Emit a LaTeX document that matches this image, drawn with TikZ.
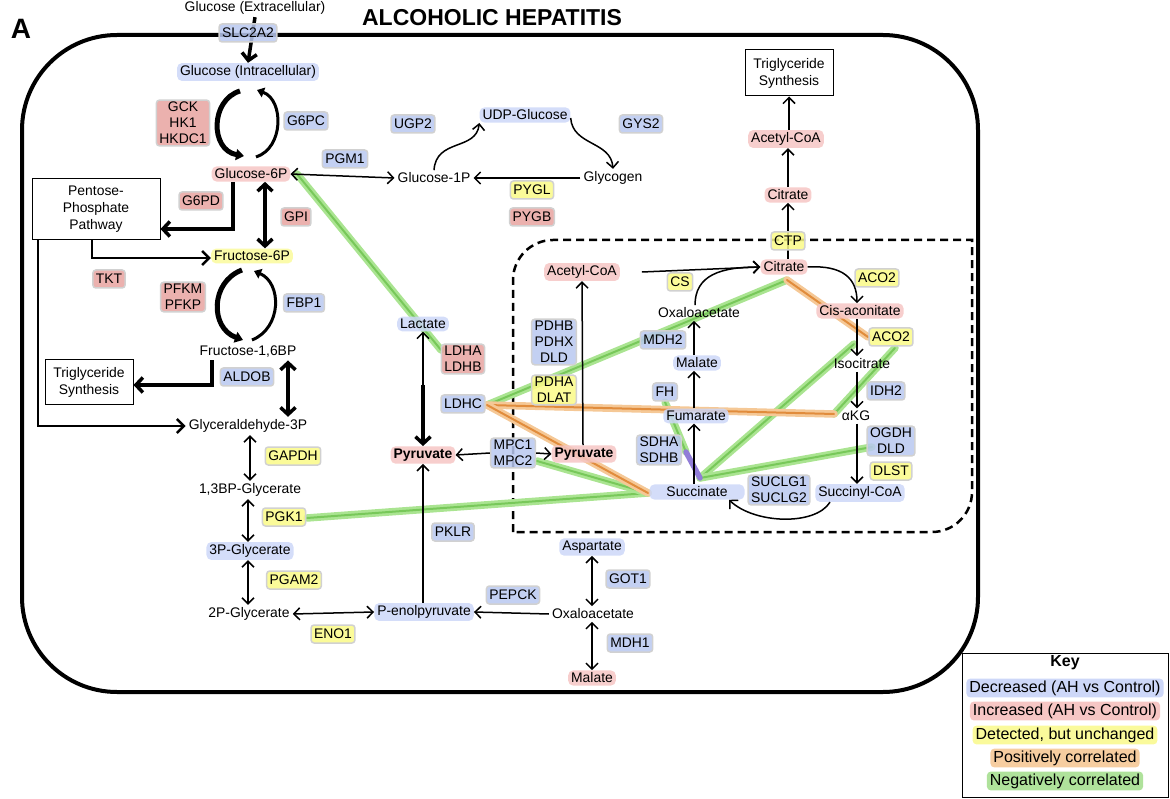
\documentclass[tikz,border=0pt]{standalone}
\usepackage{fontspec}
\setmainfont{Liberation Sans}
\usetikzlibrary{arrows.meta,calc,backgrounds}
\definecolor{eblue}{RGB}{185,200,240}
\definecolor{ered}{RGB}{232,163,160}
\definecolor{eyel}{RGB}{250,250,135}
\definecolor{gblue}{RGB}{205,215,248}
\definecolor{gred}{RGB}{246,198,196}
\definecolor{gyel}{RGB}{250,250,155}
\definecolor{gora}{RGB}{246,205,160}
\definecolor{ggre}{RGB}{175,226,155}
\definecolor{nghalo}{RGB}{170,228,145}
\definecolor{ngcore}{RGB}{120,200,90}
\definecolor{pohalo}{RGB}{245,200,150}
\definecolor{pocore}{RGB}{225,140,60}
\definecolor{pupl}{RGB}{145,125,215}
\newcommand\ft{\fontsize{13.9}{16}\selectfont}
\newcommand\kft{\fontsize{16}{18}\selectfont}
\begin{document}
\begin{tikzpicture}[x=1pt,y=-1pt,
  every node/.style={font=\ft},
  met/.style={inner xsep=3pt,inner ysep=2.5pt,rounded corners=5pt,fill opacity=0.85,text opacity=1},
  mb/.style={met,fill=gblue}, mr/.style={met,fill=gred}, my/.style={met,fill=gyel},
  mn/.style={inner xsep=3pt,inner ysep=2.5pt},
  enz/.style={rounded corners=3pt,draw=black!18,line width=1.5pt,inner xsep=3pt,inner ysep=2pt,minimum height=18pt,align=center,fill opacity=0.85,text opacity=1},
  eb/.style={enz,fill=eblue}, er/.style={enz,fill=ered}, ey/.style={enz,fill=eyel},
  pbox/.style={draw,line width=1pt,align=center,inner sep=0pt,font=\fontsize{13.9}{17}\selectfont},
  ar/.style={line width=1.5pt,-{Straight Barb[length=6pt,width=12pt]}},
  dar/.style={line width=1.5pt,{Straight Barb[length=6pt,width=12pt]}-{Straight Barb[length=6pt,width=12pt]}},
  mar/.style={line width=2.6pt,-{Straight Barb[length=7pt,width=14pt]}},
  tar/.style={line width=3.5pt,-{Straight Barb[length=7pt,width=15pt]}},
  tdar/.style={line width=3.5pt,{Straight Barb[length=7pt,width=15pt]}-{Straight Barb[length=7pt,width=15pt]}},
  cyct/.style={line width=5pt,-{Triangle[length=8pt,width=11pt]}},
  cycn/.style={line width=3pt,-{Triangle[length=7pt,width=10pt]}},
  negcor/.style={draw=ngcore,line width=2pt,line cap=round,preaction={draw=nghalo,line width=7.5pt,line cap=round}},
  poscor/.style={draw=pocore,line width=2pt,line cap=round,preaction={draw=pohalo,line width=7.5pt,line cap=round}},
  purpcor/.style={draw=pupl,line width=5.5pt,line cap=round},
  kent/.style={font=\kft,inner xsep=3pt,inner ysep=2pt,rounded corners=4pt}
]
\useasboundingbox (0,0) rectangle (1170,799);

% titles
\node[font=\fontsize{28}{30}\selectfont\bfseries] (lblA) at (21,29) {A};
\node[font=\fontsize{23}{25}\selectfont\bfseries] (title) at (492,18) {ALCOHOLIC HEPATITIS};

% metabolites
\node[mn] (gext) at (255,8) {Glucose (Extracellular)};
\node[eb] (slc) at (248,33) {SLC2A2};
\node[mb] (gint) at (248,72) {Glucose (Intracellular)};
\node[mr] (g6p) at (251,174) {Glucose-6P};
\node[my] (f6p) at (252,256) {Fructose-6P};
\node[mn] (f16) at (248,352) {Fructose-1,6BP};
\node[mn] (gap) at (248,426) {Glyceraldehyde-3P};
\node[mn] (bpg) at (250,490) {1,3BP-Glycerate};
\node[mb] (pg3) at (250,551) {3P-Glycerate};
\node[mn] (pg2) at (249,614) {2P-Glycerate};
\node[mb] (pep) at (424,612) {P-enolpyruvate};
\node[mn] (oaac) at (593,614) {Oxaloacetate};
\node[mb] (asp) at (592,547) {Aspartate};
\node[mr] (malc) at (592,678) {Malate};
\node[mb] (lac) at (423,324) {Lactate};
\node[mr,font=\ft\bfseries] (pyrc) at (423,455) {Pyruvate};
\node[mr,font=\ft\bfseries] (pyrm) at (584,454) {Pyruvate};
\node[mr] (acm) at (582,272) {Acetyl-CoA};
\node[mr] (citm) at (784,267) {Citrate};
\node[mr] (citc) at (788,195) {Citrate};
\node[mr] (acc) at (786,139) {Acetyl-CoA};
\node[mb] (udpg) at (525,115) {UDP-Glucose};
\node[mn] (g1p) at (434,178) {Glucose-1P};
\node[mn] (glyc) at (613,178) {Glycogen};
\node[mr] (cis) at (860,311) {Cis-aconitate};
\node[mn] (iso) at (862,364) {Isocitrate};
\node[mn] (akg) at (856,416) {αKG};
\node[mb] (sucoa) at (860,493) {Succinyl-CoA};
\node[mb,minimum width=95pt] (suc) at (697,492) {Succinate};
\node[mb] (fum) at (696,416) {Fumarate};
\node[mb] (malm) at (697,363) {Malate};
\node[mn] (oaam) at (699,313) {Oxaloacetate};

% boxes
\node[pbox,minimum width=128pt,minimum height=61pt] (ppp) at (96,209) {Pentose-\\Phosphate\\Pathway};
\node[pbox,minimum width=88pt,minimum height=45pt] (tgl) at (89,382) {Triglyceride\\Synthesis};
\node[pbox,minimum width=88pt,minimum height=46pt] (tgt) at (789,73) {Triglyceride\\Synthesis};

% enzymes
\node[er] (gck) at (183,123) {GCK\\HK1\\HKDC1};
\node[eb] (g6pc) at (306,121) {G6PC};
\node[eb] (pgm1) at (345,159) {PGM1};
\node[er] (g6pd) at (201,201) {G6PD};
\node[er] (gpi) at (296,217) {GPI};
\node[er] (tkt) at (109,279) {TKT};
\node[er] (pfk) at (183,297) {PFKM\\PFKP};
\node[eb] (fbp1) at (304,303) {FBP1};
\node[eb] (aldob) at (247,377) {ALDOB};
\node[ey] (gapdh) at (293,456) {GAPDH};
\node[ey] (pgk1) at (284,517) {PGK1};
\node[ey] (pgam2) at (294,580) {PGAM2};
\node[ey] (eno1) at (333,634) {ENO1};
\node[eb] (pklr) at (453,532) {PKLR};
\node[eb] (pepck) at (513,595) {PEPCK};
\node[eb] (got1) at (628,579) {GOT1};
\node[eb] (mdh1) at (630,643) {MDH1};
\node[eb] (ugp2) at (413,124) {UGP2};
\node[eb] (gys2) at (641,124) {GYS2};
\node[ey] (pygl) at (532,190) {PYGL};
\node[er] (pygb) at (532,217) {PYGB};
\node[er] (ldhab) at (463,359) {LDHA\\LDHB};
\node[eb] (ldhc) at (463,404) {LDHC};
\node[eb] (mpc) at (513,453) {MPC1\\MPC2};
\node[eb] (pdhb) at (554,342) {PDHB\\PDHX\\DLD};
\node[ey] (pdha) at (554,390) {PDHA\\DLAT};
\node[ey] (cs) at (680,282) {CS};
\node[ey] (ctp) at (788,241) {CTP};
\node[ey] (aco2a) at (877,278) {ACO2};
\node[ey] (aco2b) at (891,337) {ACO2};
\node[eb] (idh2) at (886,391) {IDH2};
\node[eb] (ogdh) at (891,441) {OGDH\\DLD};
\node[ey] (dlst) at (891,471) {DLST};
\node[eb] (sucl) at (779,490) {SUCLG1\\SUCLG2};
\node[eb] (sdh) at (659,450) {SDHA\\SDHB};
\node[eb] (fh) at (665,392) {FH};
\node[eb] (mdh2) at (663,340) {MDH2};

% key
\node[draw,line width=1pt,minimum width=206pt,minimum height=144pt] (key) at (1065,725) {};
\node[font=\kft\bfseries] (keyt) at (1065,663) {Key};
\node[kent,fill=gblue] (k1) at (1065,688) {Decreased (AH vs Control)};
\node[kent,fill=gred] (k2) at (1065,711) {Increased (AH vs Control)};
\node[kent,fill=gyel] (k3) at (1065,735) {Detected, but unchanged};
\node[kent,fill=gora] (k4) at (1065,758) {Positively correlated};
\node[kent,fill=ggre] (k5) at (1065,781) {Negatively correlated};

% cycles
\coordinate (c1a) at (240,91); \coordinate (c1b) at (244,156);
\coordinate (c1c) at (256,157); \coordinate (c1d) at (257,90);
\draw[cyct] (c1a) .. controls (210,100) and (210,150) .. (c1b);
\draw[cycn] (c1c) .. controls (284,148) and (284,100) .. (c1d);
\coordinate (c2a) at (242,270); \coordinate (c2b) at (243,340);
\coordinate (c2c) at (252,340); \coordinate (c2d) at (254,271);
\draw[cyct] (c2a) .. controls (210,282) and (210,328) .. (c2b);
\draw[cycn] (c2c) .. controls (282,328) and (282,283) .. (c2d);

% glycolysis arrows
\draw[tar] ([xshift=-18pt]g6p.south) |- ([yshift=-20pt]ppp.east);
\draw[tdar] ([xshift=14pt]g6p.south) -- ([xshift=13pt]f6p.north);
\draw[mar] ([xshift=-4pt]ppp.south) |- ([yshift=-2pt]f6p.west);
\draw[mar] ([xshift=-58pt]ppp.south) |- (gap.west);
\draw[tar] ([xshift=-36pt]f16.south) |- ([yshift=-3pt]tgl.east);
\draw[tdar] ([xshift=40pt]f16.south) -- ([xshift=40pt]f16.south |- gap.north);
\draw[dar] ([xshift=2pt]gap.south) -- (bpg.north);
\draw[dar] ([xshift=-2pt]bpg.south) -- ([xshift=-2pt]pg3.north);
\draw[dar] ([xshift=-2pt]pg3.south) -- ([xshift=-1pt]pg2.north);
\draw[dar] (pg2.east) -- (pep.west);
\draw[ar] (pyrc.south |- pep.north) -- (pyrc.south);
\draw[ar] (oaac.west) -- (pep.east);
\draw[dar] (asp.south) -- (oaac.north -| asp.south);
\draw[dar] (oaac.south -| malc.north) -- (malc.north);
\coordinate (lpm) at (423,385);
\draw[ar] (lpm) -- (lac.south);
\draw[tar] (lpm) -- (pyrc.north);
\draw[ar] (mpc.west) -- (pyrc.east);
\draw[ar] (mpc.east) -- (pyrm.west);
\draw[ar] ([xshift=-1pt]pyrm.north) -- (acm.south);
\draw[ar] ([xshift=22pt]acm.east) -- (citm.west);
\draw[ar] ([xshift=-4pt]oaam.north) .. controls +(0,-30) and +(-40,0) .. (citm.west);
\draw[ar] (citc.north) -- (citc.north |- acc.south);
\draw[ar] (acc.north -| tgt.south) -- (tgt.south);
% glycogen
\draw[dar] (g6p.east) -- (g1p.west);
\draw[ar] (glyc.west) -- (g1p.east);
\draw[ar] (g1p.north) .. controls +(2,-32) and +(-3,28) .. ([yshift=-8pt]udpg.west);
\draw[ar] ([yshift=-3pt]udpg.east) .. controls +(2,28) and +(-2,-28) .. (glyc.north);
% TCA
\draw[ar] (citm.east) .. controls +(35,-2) and +(0,-25) .. ([xshift=-3pt]cis.north);
\draw[ar] ([xshift=-3pt]cis.south) -- ([xshift=-5pt]iso.north);
\draw[ar] ([xshift=-5pt]iso.south) -- ([xshift=1pt]akg.north);
\draw[ar] ([xshift=1pt]akg.south) -- ([xshift=-3pt]sucoa.north);
\draw[ar] ([xshift=-30pt]sucoa.south) .. controls +(-15,24) and +(25,24) .. ([xshift=32pt]suc.south);
\draw[ar] ([xshift=-3pt]suc.north) -- ([xshift=-2pt]fum.south);
\draw[ar] ([xshift=-2pt]fum.north) -- ([xshift=-3pt]malm.south);
\draw[ar] ([xshift=-3pt]malm.north) -- ([xshift=-5pt]oaam.south);

% background: cell, mitochondrion, correlations
\coordinate (n1a) at (297,174); \coordinate (n1b) at (441,350);
\coordinate (ldhcR) at (487,405);
\coordinate (citL) at (787,280);
\coordinate (hubL) at (648,493);
\coordinate (pgkR) at (307,518);
\coordinate (mpcR) at (537,461);
\coordinate (hub) at (700,478);
\coordinate (fhB) at (665,402);
\coordinate (sdhT) at (686,452);
\coordinate (isoL) at (854,344);
\coordinate (ogdhL) at (872,447);
\coordinate (akgL) at (834,414);
\coordinate (acoL) at (895,348);
\coordinate (acoT) at (868,337);
\begin{scope}[on background layer]
  \draw[line width=4pt,rounded corners=95pt] (22,35) rectangle (978,692);
  \draw[line width=2.5pt,dash pattern=on 8pt off 5pt] (513,532) -- (513,280) .. controls (513,258) and (531,240) .. (553,240) -- (972,240) -- (972,492) .. controls (972,514) and (954,532) .. (932,532) -- cycle;
  \draw[negcor] (n1a) -- (n1b);
  \draw[negcor] (ldhcR) -- (citL);
  \draw[negcor] (hubL) -- (pgkR);
  \draw[negcor] (hubL) -- (mpcR);
  \draw[negcor] (sdhT) -- (fhB);
  \draw[negcor] (hub) -- (isoL);
  \draw[negcor] (hub) -- (ogdhL);
  \draw[negcor] (akgL) -- (acoL);
  \draw[poscor] (citL) -- (acoT);
  \draw[poscor] (ldhcR) -- (akgL);
  \draw[poscor] (ldhcR) -- (hubL);
  \draw[purpcor] (sdhT) -- (hub);
  \draw[tar] (gext.south) -- (gint.north);
  \draw[ar] ([xshift=4pt]citm.north) -- (citc.south);
\end{scope}
\end{tikzpicture}
\end{document}
